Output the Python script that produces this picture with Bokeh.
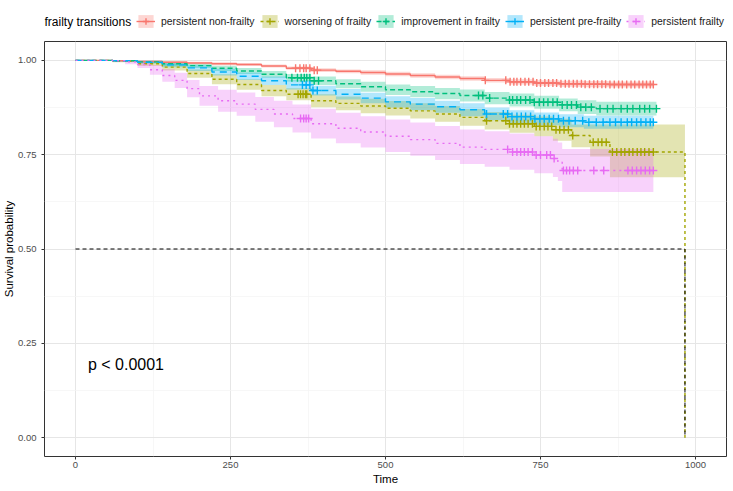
import numpy as np
from bokeh.plotting import figure
from bokeh.layouts import column
from bokeh.models import Legend, LegendItem, Label, FixedTicker, Range1d, NumeralTickFormatter
from bokeh.core.properties import value
from bokeh.embed import file_html
from bokeh.resources import INLINE

FONT = "Liberation Sans"

legend_title = "frailty transitions"
groups = ["persistent non-frailty", "worsening of frailty", "improvement in frailty",
          "persistent pre-frailty", "persistent frailty"]
colors = ["#F8766D", "#A3A500", "#00BF7D", "#00B0F6", "#E76BF3"]
dashes = ["solid", "3 3", "5 3", "7 5", "2 4"]

x_ticks = [0, 250, 500, 750, 1000]
x_minor = [-125, 125, 375, 625, 875, 1125]
y_ticks = [0.0, 0.25, 0.5, 0.75, 1.0]
y_minor = [0.125, 0.375, 0.625, 0.875]

median_time = 983
pval_text = "p < 0.0001"

# persistent non-frailty
t_nf = [0, 60, 100, 140, 180, 220, 260, 300, 340, 380, 420, 460, 500, 540, 580, 620, 660, 700, 740, 780, 820, 860, 932]
s_nf = [1.000, 0.999, 0.997, 0.995, 0.993, 0.991, 0.989, 0.985, 0.979, 0.974, 0.971, 0.968, 0.964, 0.960, 0.956, 0.952, 0.947, 0.943, 0.940, 0.938, 0.937, 0.936, 0.936]
lo_nf = [1.000, 0.998, 0.995, 0.992, 0.990, 0.987, 0.985, 0.981, 0.975, 0.969, 0.966, 0.962, 0.958, 0.954, 0.950, 0.946, 0.941, 0.936, 0.933, 0.930, 0.929, 0.928, 0.928]
hi_nf = [1.000, 1.000, 0.999, 0.998, 0.996, 0.995, 0.993, 0.989, 0.984, 0.979, 0.976, 0.974, 0.970, 0.966, 0.962, 0.958, 0.953, 0.950, 0.947, 0.946, 0.945, 0.944, 0.944]
cen_nf = [355, 362, 368, 372, 378, 385, 390, 661,
          694, 701, 707, 712, 718, 725, 731, 738, 744, 750, 757, 763, 770, 776, 783, 790, 796, 803,
          809, 816, 822, 829, 836, 842, 849, 855, 862, 869, 876, 882, 889, 896, 902, 909, 915, 921, 927, 932]

# worsening of frailty
t_wf = [0, 60, 100, 140, 180, 220, 260, 300, 340, 380, 420, 460, 500, 540, 580, 620, 660, 700, 740, 770, 800, 830, 862, 983]
s_wf = [1.000, 0.998, 0.991, 0.982, 0.965, 0.950, 0.936, 0.920, 0.910, 0.893, 0.886, 0.879, 0.873, 0.866, 0.858, 0.849, 0.840, 0.832, 0.825, 0.816, 0.801, 0.783, 0.757, 0.000]
lo_wf = [1.000, 0.995, 0.985, 0.973, 0.954, 0.937, 0.922, 0.905, 0.894, 0.876, 0.868, 0.860, 0.854, 0.846, 0.837, 0.827, 0.817, 0.808, 0.799, 0.787, 0.770, 0.745, 0.690, 0.690]
hi_wf = [1.000, 1.000, 0.997, 0.991, 0.976, 0.963, 0.950, 0.935, 0.926, 0.910, 0.904, 0.898, 0.892, 0.886, 0.879, 0.871, 0.863, 0.856, 0.851, 0.845, 0.830, 0.830, 0.830, 0.830]
cen_wf = [359, 363, 367, 371, 373, 663,
          694, 700, 706, 712, 718, 724, 730, 737, 743, 749, 756, 762, 768, 775, 781, 788, 795, 802,
          835, 843, 849, 856, 866, 873, 880, 886, 893, 899, 906, 912, 918, 925, 932]

# improvement in frailty
t_if = [0, 60, 100, 140, 180, 220, 260, 300, 340, 380, 420, 460, 500, 540, 580, 620, 660, 700, 740, 780, 810, 840, 937]
s_if = [1.000, 0.999, 0.996, 0.991, 0.986, 0.979, 0.972, 0.963, 0.954, 0.946, 0.938, 0.930, 0.922, 0.917, 0.912, 0.907, 0.900, 0.895, 0.889, 0.882, 0.876, 0.872, 0.872]
lo_if = [1.000, 0.997, 0.993, 0.986, 0.980, 0.972, 0.964, 0.954, 0.944, 0.935, 0.926, 0.917, 0.908, 0.902, 0.897, 0.891, 0.884, 0.878, 0.872, 0.865, 0.858, 0.854, 0.854]
hi_if = [1.000, 1.000, 0.999, 0.996, 0.992, 0.986, 0.980, 0.972, 0.964, 0.957, 0.950, 0.943, 0.936, 0.932, 0.927, 0.923, 0.916, 0.912, 0.906, 0.899, 0.894, 0.890, 0.890]
cen_if = [349, 358, 364, 369, 373, 378, 385, 392, 650, 657, 668, 700,
          705, 712, 718, 726, 733, 740, 748, 755, 762, 770, 777, 785, 793, 800, 808, 815, 823, 832,
          846, 858, 867, 880, 890, 899, 910, 918, 926, 937]

# persistent pre-frailty
t_pp = [0, 60, 100, 140, 180, 220, 260, 300, 340, 380, 420, 460, 500, 540, 580, 620, 660, 700, 740, 780, 820, 932]
s_pp = [1.000, 0.999, 0.995, 0.988, 0.980, 0.969, 0.958, 0.946, 0.935, 0.920, 0.910, 0.900, 0.890, 0.884, 0.877, 0.869, 0.858, 0.851, 0.845, 0.840, 0.836, 0.836]
lo_pp = [1.000, 0.997, 0.991, 0.982, 0.972, 0.960, 0.948, 0.935, 0.923, 0.907, 0.896, 0.886, 0.875, 0.868, 0.861, 0.852, 0.841, 0.834, 0.828, 0.823, 0.819, 0.819]
hi_pp = [1.000, 1.000, 0.999, 0.994, 0.988, 0.978, 0.968, 0.957, 0.947, 0.933, 0.924, 0.914, 0.905, 0.900, 0.893, 0.886, 0.875, 0.868, 0.862, 0.857, 0.853, 0.853]
cen_pp = [366, 372, 378, 383, 390, 663,
          690, 697, 704, 712, 719, 726, 734, 741, 749, 756, 764, 771, 779, 787, 796, 806, 818, 828,
          840, 851, 862, 871, 880, 890, 897, 905, 912, 920, 927, 932]

# persistent frailty
t_pf = [0, 60, 80, 100, 120, 140, 160, 180, 200, 230, 260, 290, 320, 350, 380, 420, 460, 500, 540, 580, 620, 660, 700, 740, 770, 778, 785, 932]
s_pf = [1.000, 0.999, 0.996, 0.989, 0.975, 0.960, 0.947, 0.925, 0.906, 0.893, 0.884, 0.870, 0.858, 0.846, 0.832, 0.820, 0.810, 0.799, 0.790, 0.780, 0.770, 0.764, 0.757, 0.749, 0.740, 0.730, 0.708, 0.708]
lo_pf = [1.000, 0.996, 0.990, 0.980, 0.962, 0.943, 0.927, 0.902, 0.880, 0.864, 0.853, 0.837, 0.823, 0.809, 0.793, 0.780, 0.769, 0.757, 0.747, 0.736, 0.725, 0.718, 0.710, 0.701, 0.691, 0.680, 0.651, 0.651]
hi_pf = [1.000, 1.000, 1.000, 0.997, 0.988, 0.977, 0.967, 0.948, 0.932, 0.922, 0.915, 0.903, 0.893, 0.883, 0.872, 0.861, 0.852, 0.843, 0.835, 0.826, 0.817, 0.812, 0.806, 0.799, 0.792, 0.782, 0.765, 0.765]
cen_pf = [363, 368, 372, 376, 697, 705, 712, 718, 724, 730, 737, 743, 750, 760, 766, 772,
          787, 792, 797, 803, 810, 836, 852, 891, 898, 905, 912, 919, 926, 932]

series = [
    (t_nf, s_nf, lo_nf, hi_nf, cen_nf),
    (t_wf, s_wf, lo_wf, hi_wf, cen_wf),
    (t_if, s_if, lo_if, hi_if, cen_if),
    (t_pp, s_pp, lo_pp, hi_pp, cen_pp),
    (t_pf, s_pf, lo_pf, hi_pf, cen_pf),
]


def step_value(t, s, c):
    t = np.asarray(t, dtype=float)
    s = np.asarray(s, dtype=float)
    idx = np.searchsorted(t, np.asarray(c, dtype=float), side="right") - 1
    idx = np.clip(idx, 0, len(s) - 1)
    return s[idx]


W = 732
HEADER_H = 41
MAIN_H = 449


def style_series(fig):
    """Draw bands, step lines and censor marks of every group on fig."""
    bands, lines, marks = [], [], []
    for (t, s, lo, hi, cen), col in zip(series, colors):
        bands.append(fig.varea_step(x=t, y1=lo, y2=hi, step_mode="after",
                                    fill_color=col, fill_alpha=0.3))
    for (t, s, lo, hi, cen), col, dash in zip(series, colors, dashes):
        lines.append(fig.step(x=t, y=s, mode="after", line_color=col, line_width=1.4,
                              line_dash=dash))
    for (t, s, lo, hi, cen), col in zip(series, colors):
        marks.append(fig.scatter(x=cen, y=step_value(t, s, cen), marker="cross", size=8,
                                 line_color=col, line_width=1.4))
    return bands, lines, marks


# ---------------- main survival plot ----------------
p = figure(width=W, height=MAIN_H, output_backend="svg", toolbar_location=None,
           x_range=Range1d(-50, 1050), y_range=Range1d(-0.05, 1.05),
           min_border_left=44, min_border_right=6, min_border_top=0, min_border_bottom=34)
p.background_fill_color = "white"
p.border_fill_color = "white"
p.outline_line_color = "#333333"
p.outline_line_width = 1

p.xaxis.ticker = FixedTicker(ticks=x_ticks, minor_ticks=x_minor)
p.yaxis.ticker = FixedTicker(ticks=y_ticks, minor_ticks=y_minor)
p.yaxis.formatter = NumeralTickFormatter(format="0.00")
p.xaxis.formatter = NumeralTickFormatter(format="0")
for ax in (p.xaxis[0], p.yaxis[0]):
    ax.axis_line_color = None
    ax.major_tick_out = 3
    ax.major_tick_in = 0
    ax.minor_tick_out = 0
    ax.minor_tick_in = 0
    ax.major_tick_line_color = "#333333"
    ax.major_label_text_color = "#4D4D4D"
    ax.major_label_text_font = FONT
    ax.major_label_text_font_size = "9.5px"
    ax.axis_label_text_font = FONT
    ax.axis_label_text_font_size = "11.5px"
    ax.axis_label_text_font_style = "normal"
    ax.axis_label_text_color = "black"
p.xaxis.major_label_standoff = 2
p.xaxis.axis_label_standoff = 2
p.yaxis.major_label_standoff = 5
p.yaxis.axis_label_standoff = 0
p.xaxis.axis_label = "Time"
p.yaxis.axis_label = "Survival probability"

for g in (p.xgrid[0], p.ygrid[0]):
    g.grid_line_color = "#E6E6E6"
    g.grid_line_width = 1
    g.minor_grid_line_color = "#F3F3F3"
    g.minor_grid_line_width = 0.7

style_series(p)

# median survival line
p.line(x=[0, median_time, median_time], y=[0.5, 0.5, 0.0], line_color="black",
       line_width=1, line_dash="4 3")

p.text(x=[20], y=[0.195], text=[pval_text], text_font=value(FONT), text_font_size="16px",
       text_align="left", text_baseline="middle", text_color="black")

# ---------------- legend header (same glyph styles, data kept out of view) ----------------
# the column layout aligns this header's frame with the main frame (left edge at 44px)
h = figure(width=W, height=HEADER_H, output_backend="svg", toolbar_location=None,
           x_range=Range1d(5000, 6000), y_range=Range1d(5, 6),
           min_border_left=0, min_border_right=0, min_border_top=0, min_border_bottom=0)
h.axis.visible = False
h.grid.visible = False
h.outline_line_color = None
h.background_fill_color = "white"
h.border_fill_color = "white"

hb, hl, hm = style_series(h)
items = [LegendItem(label=g, renderers=[b, l, m]) for g, b, l, m in zip(groups, hb, hl, hm)]
legend = Legend(items=items, orientation="horizontal", location=(92, 12),
                glyph_width=19, glyph_height=16, label_standoff=6, spacing=5,
                padding=0, margin=0, border_line_color=None, background_fill_alpha=0,
                label_text_font=FONT, label_text_font_size="10.4px", label_text_color="#1A1A1A",
                label_height=16)
h.add_layout(legend, "center")

h.add_layout(Label(x=0, y=20, x_units="screen", y_units="screen", text=legend_title,
                   text_font=FONT, text_font_size="12px", text_baseline="middle",
                   text_color="black"))

layout = column(h, p)
open("out.html", "w").write(file_html(layout, INLINE))
